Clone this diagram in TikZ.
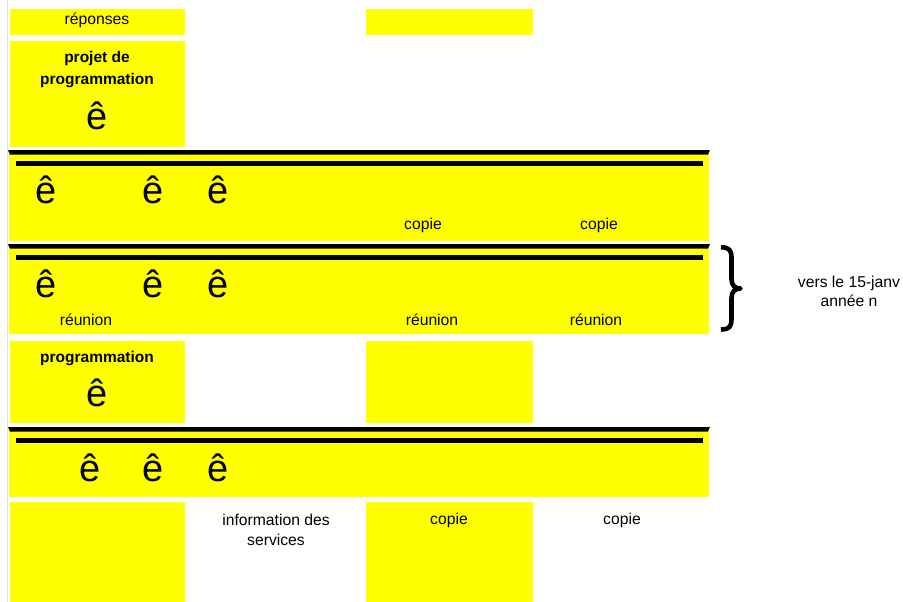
\documentclass[tikz,border=0pt]{standalone}
\usepackage{fontspec}
\setmainfont{Liberation Sans}
\definecolor{yel}{HTML}{FFFF00}
\tikzset{
  ybox/.style={fill=yel, draw=none},
  txt/.style={inner sep=0pt, font=\fontsize{15.7}{19.5}\selectfont, align=center},
  btxt/.style={inner sep=0pt, font=\fontsize{15.5}{22}\selectfont\bfseries, align=center},
  ecirc/.style={inner sep=0pt, font=\fontsize{38}{38}\selectfont},
  bar/.style={fill=black, draw=none},
  bracestroke/.style={draw=black, line width=4.6pt, line cap=butt, line join=round}
}
\begin{document}
\begin{tikzpicture}[x=1pt,y=-1pt]
\useasboundingbox (0,0) rectangle (903,602);
% faint left margin line
\draw[black!12, line width=0.6pt] (7,0) -- (7,602);
% top row boxes
\fill[ybox] (10,9) rectangle (185,35.5);
\fill[ybox] (366,9) rectangle (533,35.5);
\node[txt] (rep) at (97,20) {réponses};
% projet box
\fill[ybox] (10,41) rectangle (185,147);
\node[btxt] (projet) at (97,69.5) {projet de\\programmation};
\node[ecirc] (e0) at (97,115.5) {ê};
% band 1
\fill[ybox] (9,150) rectangle (709,241);
\fill[bar] (8,150) -- (710,150) -- (708,154.7) -- (10,154.7) -- cycle;
\fill[bar] (16,161) rectangle (703,165.5);
\node[ecirc] (e11) at (46.5,189.5) {ê};
\node[ecirc] (e12) at (153,189.5) {ê};
\node[ecirc] (e13) at (218,189.5) {ê};
\node[txt] (c11) at (423,225.5) {copie};
\node[txt] (c12) at (599,225.5) {copie};
% band 2
\fill[ybox] (9,244) rectangle (709,334);
\fill[bar] (8,244) -- (710,244) -- (708,248.7) -- (10,248.7) -- cycle;
\fill[bar] (16,255.3) rectangle (703,260);
\node[ecirc] (e21) at (46.5,283.5) {ê};
\node[ecirc] (e22) at (153,283.5) {ê};
\node[ecirc] (e23) at (218,283.5) {ê};
\node[txt] (r1) at (86,319.5) {réunion};
\node[txt] (r2) at (432,319.5) {réunion};
\node[txt] (r3) at (596,319.5) {réunion};
% brace and note
\coordinate (btop) at (721,247.3);
\coordinate (bmid) at (740.5,288.5);
\coordinate (bbot) at (721,329.5);
\draw[bracestroke] (btop) .. controls (729,247.3) and (731.5,250) .. (731.5,258)
  -- (731.5,279) .. controls (731.5,285.5) and (735,288.5) .. (bmid)
  .. controls (735,288.5) and (731.5,291.5) .. (731.5,298)
  -- (731.5,319) .. controls (731.5,327) and (729,329.5) .. (bbot);
\node[txt] (vers) at (849,291.5) {vers le 15-janv\\année n};
% programmation row
\fill[ybox] (10,341) rectangle (185,423);
\fill[ybox] (366,341) rectangle (533,423);
\node[btxt] (prog) at (97,358.5) {programmation};
\node[ecirc] (e30) at (97,392.5) {ê};
% band 3
\fill[ybox] (9,427) rectangle (709,497);
\fill[bar] (8,427) -- (710,427) -- (708,431.5) -- (10,431.5) -- cycle;
\fill[bar] (16,438) rectangle (703,443);
\node[ecirc] (e31) at (90,467.5) {ê};
\node[ecirc] (e32) at (153.5,467.5) {ê};
\node[ecirc] (e33) at (218,467.5) {ê};
% bottom row
\fill[ybox] (10,502) rectangle (185,602);
\fill[ybox] (366,502) rectangle (533,602);
\node[txt] (info) at (276,530) {information des\\services};
\node[txt] (c31) at (449,520.5) {copie};
\node[txt] (c32) at (622,520.5) {copie};
\end{tikzpicture}
\end{document}
